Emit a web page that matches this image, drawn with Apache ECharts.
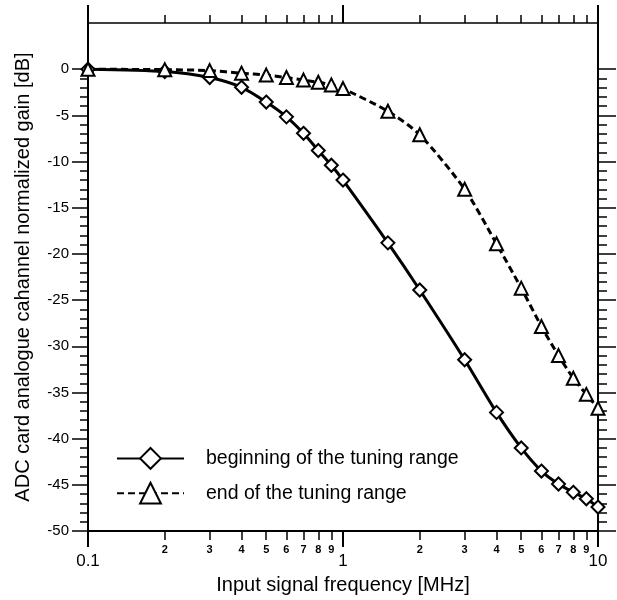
<!DOCTYPE html>
<html>
<head>
<meta charset="utf-8">
<script src="https://cdn.jsdelivr.net/npm/echarts@6/dist/echarts.min.js"></script>
<style>
html,body{margin:0;padding:0;background:#fff;}
#chart{width:617px;height:600px;}
</style>
</head>
<body>
<div id="chart"></div>
<script>
// Frequencies [MHz]
const freqs = [0.1, 0.2, 0.3, 0.4, 0.5, 0.6, 0.7, 0.8, 0.9, 1, 1.5, 2, 3, 4, 5, 6, 7, 8, 9, 10];
// Normalized gain [dB], beginning of the tuning range
const gainBegin = [0, -0.25, -0.9, -1.96, -3.56, -5.16, -6.94, -8.8, -10.4, -12.0, -18.8, -23.9, -31.45, -37.15, -41.0, -43.5, -44.9, -45.8, -46.5, -47.4];
// Normalized gain [dB], end of the tuning range
const gainEnd = [0, -0.05, -0.15, -0.43, -0.64, -0.9, -1.18, -1.42, -1.7, -2.1, -4.56, -7.1, -13.0, -18.9, -23.7, -27.85, -31.0, -33.45, -35.2, -36.7];

const seriesNames = ['beginning of the tuning range', 'end of the tuning range'];
const xMajorTicks = [0.1, 1, 10];
const xMinorTicks = [0.2, 0.3, 0.4, 0.5, 0.6, 0.7, 0.8, 0.9, 2, 3, 4, 5, 6, 7, 8, 9];
const yMajorTicks = [-50, -45, -40, -35, -30, -25, -20, -15, -10, -5, 0];
const yMinorTicks = [];
for (let v = -50; v <= 0; v++) yMinorTicks.push(v);

const xTitle = 'Input signal frequency [MHz]';
const yTitle = 'ADC card analogue cahannel normalized gain [dB]';

const FONT = 'Liberation Sans, Arial, Helvetica, sans-serif';
const BLACK = '#000';

function pairs(xs, ys) { return xs.map((x, i) => [x, ys[i]]); }
function fmtX(v) {
  const r = Math.round(v * 10) / 10;
  return r < 1 ? r.toFixed(1) : String(Math.round(r));
}
function fmtMinor(v) {
  const r = Math.round(v * 10) / 10;
  return r < 1 ? String(Math.round(r * 10)) : String(Math.round(r));
}

const chart = echarts.init(document.getElementById('chart'), null, {renderer: 'canvas'});

const baseX = {
  type: 'log', logBase: 10, min: 0.1, max: 10,
  splitLine: {show: false}, minorTick: {show: false}
};
const baseY = {
  type: 'value', min: -50, max: 5, interval: 5,
  splitLine: {show: false}
};

const option = {
  animation: false,
  backgroundColor: '#fff',
  textStyle: {fontFamily: FONT, color: BLACK},
  grid: {left: 88, right: 19, top: 23, bottom: 62, containLabel: false},
  legend: {
    orient: 'vertical', left: 116, top: 447, padding: 0,
    itemWidth: 67, itemHeight: 26, itemGap: 12,
    data: seriesNames,
    textStyle: {fontFamily: FONT, fontSize: 19.5, color: BLACK, padding: [0, 0, 0, 17]}
  },
  xAxis: [
    Object.assign({}, baseX, {
      position: 'bottom',
      name: xTitle, nameLocation: 'middle', nameGap: 40,
      nameTextStyle: {fontFamily: FONT, fontSize: 20, color: BLACK},
      axisLine: {show: true, onZero: false, lineStyle: {color: BLACK, width: 2}},
      axisTick: {show: true, inside: false, length: 16, customValues: xMajorTicks, lineStyle: {color: BLACK, width: 2}},
      axisLabel: {show: true, customValues: xMajorTicks, margin: 22, fontSize: 17, color: BLACK, fontFamily: FONT, formatter: fmtX}
    }),
    Object.assign({}, baseX, {
      position: 'bottom',
      axisLine: {show: false, onZero: false},
      axisTick: {show: true, inside: false, length: 9, customValues: xMinorTicks, lineStyle: {color: BLACK, width: 1.5}},
      axisLabel: {show: true, customValues: xMinorTicks, margin: 13, fontSize: 11, fontWeight: 'bold', color: BLACK, fontFamily: FONT, formatter: fmtMinor}
    }),
    Object.assign({}, baseX, {
      position: 'top',
      axisLine: {show: true, onZero: false, lineStyle: {color: BLACK, width: 1.5}},
      axisTick: {show: true, inside: false, length: 18, customValues: xMajorTicks, lineStyle: {color: BLACK, width: 2}},
      axisLabel: {show: false}
    }),
    Object.assign({}, baseX, {
      position: 'top',
      axisLine: {show: false, onZero: false},
      axisTick: {show: true, inside: false, length: 8, customValues: xMinorTicks, lineStyle: {color: BLACK, width: 1.5}},
      axisLabel: {show: false}
    })
  ],
  yAxis: [
    Object.assign({}, baseY, {
      position: 'left',
      name: yTitle, nameLocation: 'middle', nameGap: 55,
      nameTextStyle: {fontFamily: FONT, fontSize: 20, color: BLACK},
      axisLine: {show: true, onZero: false, lineStyle: {color: BLACK, width: 2}},
      axisTick: {show: true, inside: false, length: 16, customValues: yMajorTicks, lineStyle: {color: BLACK, width: 1.5}},
      axisLabel: {show: true, customValues: yMajorTicks, margin: 19, fontSize: 15, color: BLACK, fontFamily: FONT}
    }),
    Object.assign({}, baseY, {
      position: 'left',
      axisLine: {show: false, onZero: false},
      axisTick: {show: true, inside: false, length: 8, customValues: yMinorTicks, lineStyle: {color: BLACK, width: 1.5}},
      axisLabel: {show: false}
    }),
    Object.assign({}, baseY, {
      position: 'right',
      axisLine: {show: true, onZero: false, lineStyle: {color: BLACK, width: 2}},
      axisTick: {show: true, inside: false, length: 18, customValues: yMajorTicks, lineStyle: {color: BLACK, width: 1.5}},
      axisLabel: {show: false}
    }),
    Object.assign({}, baseY, {
      position: 'right',
      axisLine: {show: false, onZero: false},
      axisTick: {show: true, inside: false, length: 9, customValues: yMinorTicks, lineStyle: {color: BLACK, width: 1.5}},
      axisLabel: {show: false}
    })
  ],
  series: [
    {
      name: seriesNames[0], type: 'line', xAxisIndex: 0, yAxisIndex: 0,
      data: pairs(freqs, gainBegin),
      smooth: 0.25,
      symbol: 'emptyDiamond', symbolSize: 13,
      lineStyle: {color: BLACK, width: 3, type: 'solid'},
      itemStyle: {color: BLACK, borderColor: BLACK, borderWidth: 2},
      z: 3
    },
    {
      name: seriesNames[1], type: 'line', xAxisIndex: 0, yAxisIndex: 0,
      data: pairs(freqs, gainEnd),
      smooth: 0.25,
      symbol: 'emptyTriangle', symbolSize: 13,
      lineStyle: {color: BLACK, width: 3, type: [7, 4]},
      itemStyle: {color: BLACK, borderColor: BLACK, borderWidth: 2},
      z: 3
    }
  ]
};
chart.setOption(option);
</script>
</body>
</html>
